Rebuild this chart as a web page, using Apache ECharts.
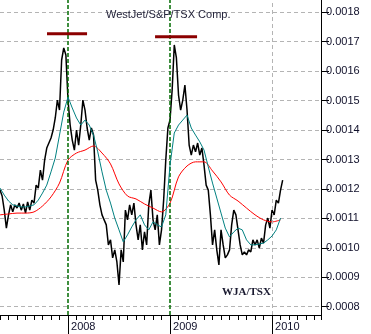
<!DOCTYPE html>
<html>
<head>
<meta charset="utf-8">
<script src="https://cdn.jsdelivr.net/npm/echarts@6/dist/echarts.min.js"></script>
<style>
  html, body { margin: 0; padding: 0; background: #fff; }
  #chart { width: 371px; height: 334px; }
</style>
</head>
<body>
<div id="chart"></div>
<script>
// x unit = months since Jan 2007 (12 -> 2008, 24 -> 2009, 36 -> 2010)
const yearTicks = [12, 24, 36];
const yearLabels = ['2008', '2009', '2010'];

// WJA/TSX ratio, weekly from May 2007
const ratioStart = 4, ratioStep = 0.25;
const ratio = [
  0.001196, 0.001176, 0.001128, 0.001067, 0.001112, 0.001146, 0.001122, 0.001146, 0.001135, 0.001152,
  0.001128, 0.001149, 0.001118, 0.001156, 0.001128, 0.001162, 0.001152, 0.001213, 0.001203, 0.001264,
  0.001230, 0.001298, 0.001339, 0.001356, 0.001373, 0.001400, 0.001441, 0.001502, 0.001468, 0.001638,
  0.001679, 0.001655, 0.001502, 0.001417, 0.001366, 0.001332, 0.001400, 0.001349, 0.001417, 0.001502,
  0.001468, 0.001407, 0.001366, 0.001407, 0.001383, 0.001230, 0.001196, 0.001146, 0.001112, 0.001095,
  0.001078, 0.001010, 0.001027, 0.000966, 0.000993, 0.000952, 0.000874, 0.000993, 0.000952, 0.001128,
  0.001095, 0.001146, 0.001112, 0.001152, 0.001078, 0.001027, 0.001078, 0.000993, 0.001054, 0.001010,
  0.001146, 0.001196, 0.001095, 0.001061, 0.001112, 0.001010, 0.001061, 0.001162, 0.001298, 0.001407,
  0.001434, 0.001536, 0.001689, 0.001645, 0.001519, 0.001468, 0.001502, 0.001553, 0.001468, 0.001349,
  0.001315, 0.001349, 0.001326, 0.001356, 0.001315, 0.001339, 0.001281, 0.001213, 0.001196, 0.001112,
  0.001010, 0.001061, 0.000993, 0.000942, 0.001061, 0.001010, 0.000966, 0.000976, 0.000993, 0.001078,
  0.001128, 0.001112, 0.001061, 0.001010, 0.000976, 0.000986, 0.000976, 0.000993, 0.000986, 0.001027,
  0.001010, 0.001027, 0.000999, 0.001033, 0.001016, 0.001078, 0.001101, 0.001067, 0.001128, 0.001112,
  0.001162, 0.001152, 0.001196, 0.001230
];

// short moving average (teal), twice a month
const maShortStart = 4, maShortStep = 0.5;
const maShort = [
  0.001203, 0.001179, 0.001159, 0.001146, 0.001142, 0.001139, 0.001139, 0.001142, 0.001146, 0.001162,
  0.001186, 0.001213, 0.001258, 0.001305, 0.001383, 0.001461, 0.001512, 0.001475, 0.001441, 0.001417,
  0.001434, 0.001417, 0.001383, 0.001326, 0.001258, 0.001196, 0.001152, 0.001101, 0.001061, 0.001020,
  0.001044, 0.001071, 0.001095, 0.001112, 0.001078, 0.001061, 0.001088, 0.001078, 0.001071, 0.001112,
  0.001281, 0.001390, 0.001417, 0.001434, 0.001451, 0.001407, 0.001383, 0.001360, 0.001332, 0.001275,
  0.001220, 0.001169, 0.001118, 0.001067, 0.001037, 0.001054, 0.001067, 0.001061, 0.001027, 0.001010,
  0.001010, 0.001013, 0.001016, 0.001027, 0.001040, 0.001061, 0.001101
];

// long moving average (red), monthly
const maLongStart = 4, maLongStep = 1;
const maLong = [
  0.001112, 0.001115, 0.001118, 0.001118, 0.001122, 0.001142, 0.001173, 0.001220, 0.001298, 0.001322,
  0.001332, 0.001346, 0.001322, 0.001285, 0.001217, 0.001176, 0.001166, 0.001149, 0.001135, 0.001122,
  0.001152, 0.001241, 0.001278, 0.001292, 0.001292, 0.001261, 0.001224, 0.001179, 0.001159, 0.001135,
  0.001112, 0.001095, 0.001088, 0.001095
];

// resistance level and the two peak markers [fromMonth, toMonth, level]
const resistance = 0.0017;
const peakBars = [[9.53, 14.24, 0.001727], [22.24, 27.18, 0.001717]];

const toPairs = (arr, start, step) => arr.map((v, i) => [start + i * step, v]);

const chart = echarts.init(document.getElementById('chart'));

const yearLine = { color: '#006b00', type: [4, 2], width: 1.5 };

const series = [
  {
    name: 'WJA/TSX',
    type: 'line',
    data: toPairs(ratio, ratioStart, ratioStep),
    showSymbol: false,
    lineStyle: { color: '#000', width: 1.5 },
    z: 3,
    markLine: {
      silent: true,
      symbol: 'none',
      label: { show: false },
      data: [
        { xAxis: yearTicks[0], lineStyle: yearLine },
        { xAxis: yearTicks[1], lineStyle: yearLine },
        { xAxis: yearTicks[2], lineStyle: { color: '#b4b4b4', type: [4, 3], width: 1 } },
        { yAxis: resistance, lineStyle: { color: '#800000', type: [3, 3], width: 1 } }
      ]
    }
  },
  {
    name: 'long',
    type: 'line',
    data: toPairs(maLong, maLongStart, maLongStep),
    showSymbol: false,
    smooth: 0.3,
    lineStyle: { color: '#ff0000', width: 1 },
    z: 4
  },
  {
    name: 'short',
    type: 'line',
    data: toPairs(maShort, maShortStart, maShortStep),
    showSymbol: false,
    lineStyle: { color: '#008080', width: 1 },
    z: 5
  }
];

peakBars.forEach(b => {
  series.push({
    type: 'line',
    data: [[b[0], b[2]], [b[1], b[2]]],
    showSymbol: false,
    lineStyle: { color: '#8b0000', width: 3 },
    z: 6
  });
});

chart.setOption({
  animation: false,
  backgroundColor: '#fff',
  title: {
    text: 'WestJet/S&P/TSX Comp.',
    left: 101,
    top: 4,
    textStyle: { fontSize: 11, fontWeight: 'normal', color: '#23233a', fontFamily: 'Liberation Sans, Arial' }
  },
  graphic: [{
    type: 'text',
    left: 222,
    top: 287,
    style: { text: 'WJA/TSX', font: 'bold 11px "Liberation Serif", serif', fill: '#1a1a30' }
  }],
  grid: { left: 0, right: 50, top: 0, bottom: 19 },
  xAxis: [
    {
      type: 'value',
      min: 4,
      max: 41.76,
      interval: 1,
      axisLine: { lineStyle: { color: '#000' } },
      axisTick: { length: 5, lineStyle: { color: '#000' } },
      axisLabel: { show: false },
      splitLine: { show: false }
    },
    {
      type: 'value',
      min: 4,
      max: 41.76,
      position: 'bottom',
      axisLine: { show: false },
      axisTick: { customValues: yearTicks, length: 19, lineStyle: { color: '#000' } },
      axisLabel: {
        customValues: yearTicks,
        formatter: v => yearLabels[yearTicks.indexOf(v)],
        align: 'left',
        verticalAlign: 'top',
        padding: [0, 0, 0, 3],
        margin: 6,
        fontSize: 11,
        color: '#10102a',
        fontFamily: 'Liberation Sans, Arial'
      },
      splitLine: { show: false }
    }
  ],
  yAxis: {
    type: 'value',
    position: 'right',
    min: 0.0007718,
    max: 0.0018418,
    splitNumber: 10,
    axisLine: { show: true, lineStyle: { color: '#000' } },
    axisTick: { show: true, length: 8, lineStyle: { color: '#000' } },
    axisLabel: {
      showMinLabel: false,
      showMaxLabel: false,
      formatter: v => v.toFixed(4),
      fontSize: 11,
      margin: 5,
      color: '#10102a',
      fontFamily: 'Liberation Sans, Arial'
    },
    splitLine: {
      show: true,
      showMinLine: false,
      showMaxLine: false,
      lineStyle: { color: '#b4b4b4', type: [4, 3] }
    }
  },
  series: series
});
</script>
</body>
</html>
